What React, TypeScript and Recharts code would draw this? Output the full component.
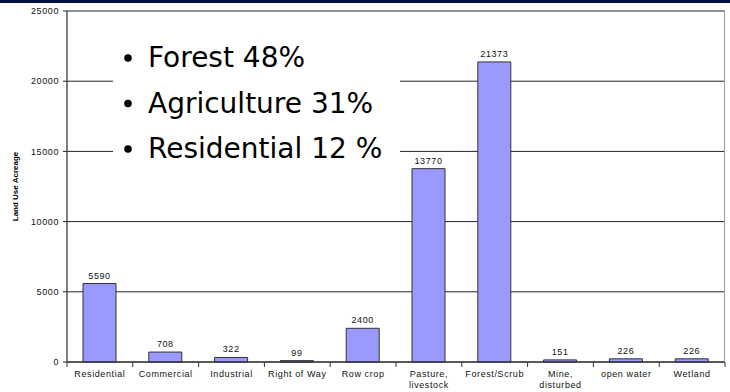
import React from "react";
import { BarChart, Bar, XAxis, YAxis, CartesianGrid, LabelList } from "recharts";

const categories = ["Residential", "Commercial", "Industrial", "Right of Way", "Row crop", "Pasture,\nlivestock", "Forest/Scrub", "Mine,\ndisturbed", "open water", "Wetland"];
const acreage = [5590, 708, 322, 99, 2400, 13770, 21373, 151, 226, 226];
const yTicks = [0, 5000, 10000, 15000, 20000, 25000];
const bullets = ["Forest 48%", "Agriculture 31%", "Residential 12 %"];
const yLabel = "Land Use Acreage";

const data = categories.map((c, i) => ({ name: c, value: acreage[i] }));

const HALF_BAND = 32.9;
const FONT = "Liberation Sans, Arial, sans-serif";

const XTick = (props: any) => {
  const { x, payload, index } = props;
  const lines = String(payload.value).split("\n");
  return (
    <g>
      <line x1={x - HALF_BAND} x2={x - HALF_BAND} y1={362} y2={367} stroke="#333" />
      {index === categories.length - 1 && (
        <line x1={x + HALF_BAND} x2={x + HALF_BAND} y1={362} y2={367} stroke="#333" />
      )}
      <text x={x} y={377} textAnchor="middle" fontSize={9} letterSpacing={0.6} fill="#111" fontFamily={FONT}>
        {lines.map((l, i) => (
          <tspan key={i} x={x} dy={i === 0 ? 0 : 10.5}>{l}</tspan>
        ))}
      </text>
    </g>
  );
};

export default function App() {
  return (
    <div style={{ position: "absolute", left: 0, top: 0, width: 730, height: 392, background: "#fff", fontFamily: FONT }}>
      <div style={{ position: "absolute", left: 0, top: 0, width: 730, height: 3, background: "#001040" }} />
      <BarChart width={730} height={392} data={data} margin={{ top: 11, right: 5, bottom: 0, left: 0 }} barSize={33}>
        <CartesianGrid vertical={false} stroke="#222" />
        <XAxis dataKey="name" interval={0} tickLine={false} axisLine={{ stroke: "#222" }} height={30} tick={<XTick />} />
        <YAxis
          width={67}
          domain={[0, 25000]}
          ticks={yTicks}
          tickSize={4}
          tickMargin={4}
          tickLine={{ stroke: "#222" }}
          axisLine={{ stroke: "#555", strokeWidth: 1.5 }}
          tick={{ fontSize: 9, fill: "#111", letterSpacing: 0.6, fontFamily: FONT }}
          label={{ value: yLabel, angle: -90, position: "insideLeft", offset: 15, style: { fontSize: 8, fontWeight: "bold", fill: "#000", textAnchor: "middle", fontFamily: FONT } }}
        />
        <Bar dataKey="value" fill="#9999FF" stroke="#333" strokeWidth={1} isAnimationActive={false}>
          <LabelList dataKey="value" position="top" offset={5} style={{ fontSize: 9, fill: "#111", letterSpacing: 0.6, fontFamily: FONT }} />
        </Bar>
      </BarChart>
      <div style={{ position: "absolute", left: 724, top: 11, width: 1, height: 351, background: "#999" }} />
      <svg style={{ position: "absolute", left: 0, top: 0 }} width={730} height={392}>
        <rect x={113} y={26} width={287} height={170} fill="#fff" />
        {bullets.map((b, i) => (
          <g key={i}>
            <circle cx={128} cy={58 + i * 45.5} r={3.8} fill="#000" />
            <text x={148} y={67 + i * 45.5} fontSize={28} fontFamily="DejaVu Sans, Verdana, sans-serif" fill="#000">{b}</text>
          </g>
        ))}
      </svg>
    </div>
  );
}
